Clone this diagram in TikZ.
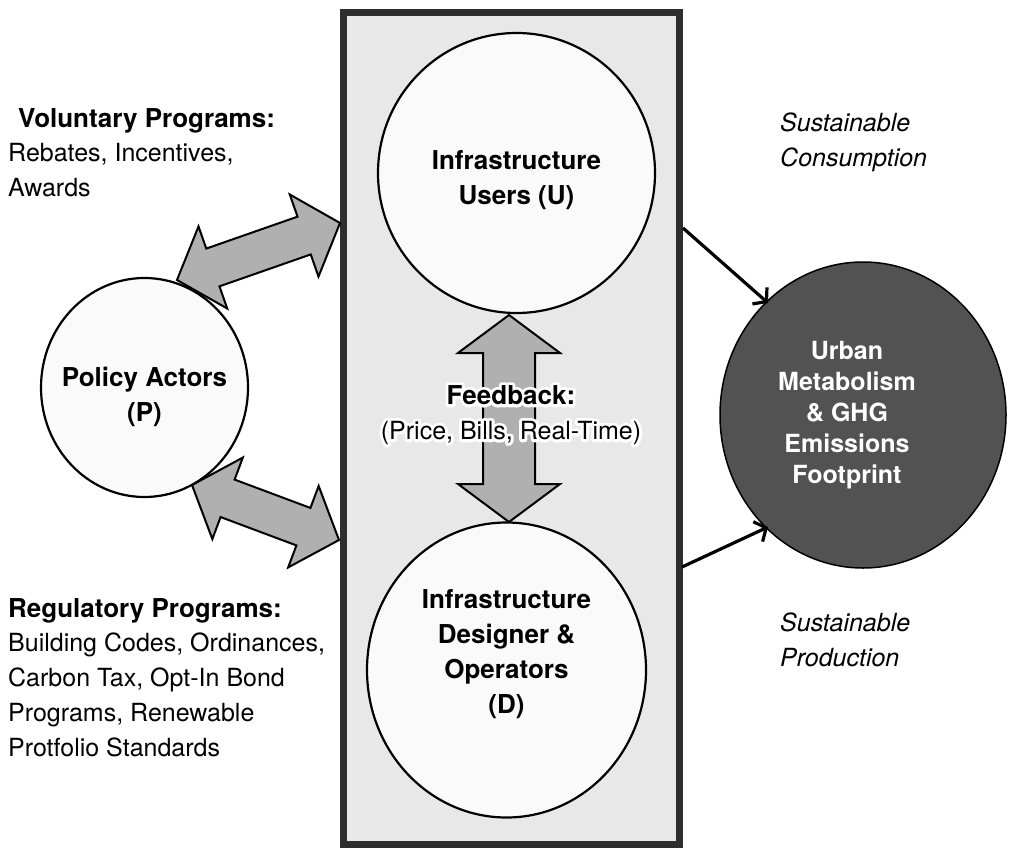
\documentclass[tikz,border=0pt]{standalone}
\usepackage{fontspec}
\setmainfont{TeX Gyre Heros}
\usetikzlibrary{shapes.geometric,calc,arrows.meta}

\definecolor{panelfill}{HTML}{E8E8E8}
\definecolor{paneledge}{HTML}{2E2E2E}
\definecolor{bubblefill}{HTML}{FAFAFA}
\definecolor{fatgray}{HTML}{B0B0B0}
\definecolor{sinkfill}{HTML}{525252}

\newcommand\lblbold{\fontsize{26}{35}\selectfont\bfseries}
\newcommand\lblplain{\fontsize{25}{35}\selectfont}
\newcommand\lblital{\fontsize{25}{35}\selectfont\itshape}
\newcommand\lblsink{\fontsize{25}{31}\selectfont\bfseries}
% glyphs stroked with a wide round pen, for a halo behind text
\newcommand\strokedglyphs[1]{\special{pdf:literal direct 1 Tr 6 w 1 j 1 J}#1\special{pdf:literal direct 0 Tr}}

\tikzset{
  % wide two-headed block arrow: #1 head length, #2 head half width, #3 shaft half width
  fatarrow/.style n args={3}{fill=fatgray, draw=black, line width=2pt, line join=miter,
    to path={
      -- ($(\tikztostart)!#1!(\tikztotarget)!#2!90:(\tikztotarget)$)
      -- ($(\tikztostart)!#1!(\tikztotarget)!#3!90:(\tikztotarget)$)
      -- ($(\tikztotarget)!#1!(\tikztostart)!#3!-90:(\tikztostart)$)
      -- ($(\tikztotarget)!#1!(\tikztostart)!#2!-90:(\tikztostart)$)
      -- (\tikztotarget)
      -- ($(\tikztotarget)!#1!(\tikztostart)!#2!90:(\tikztostart)$)
      -- ($(\tikztotarget)!#1!(\tikztostart)!#3!90:(\tikztostart)$)
      -- ($(\tikztostart)!#1!(\tikztotarget)!#3!-90:(\tikztotarget)$)
      -- ($(\tikztostart)!#1!(\tikztotarget)!#2!-90:(\tikztotarget)$)
      -- cycle}},
  bubble/.style={ellipse, draw=black, line width=2.2pt, fill=bubblefill, inner sep=0pt},
  bubbletext/.style={inner sep=0pt, align=center, font=\lblbold},
  sink/.style={ellipse, draw=black, line width=1.5pt, fill=sinkfill, inner sep=0pt},
  sinktext/.style={inner sep=0pt, align=center, text=white, font=\lblsink},
  flow/.style={line width=3.2pt, -{Straight Barb[length=9pt,width=22pt,line width=3.2pt]}},
  lefttext/.style={anchor=north west, inner sep=0pt, align=left},
  fbtext/.style={inner sep=0pt, align=center, font=\lblplain},
}

\begin{document}
\begin{tikzpicture}[x=1pt, y=-1pt]
  \useasboundingbox (0,0) rectangle (1019,851);

  % central panel holding users and designers
  \node[rectangle, draw=paneledge, fill=panelfill, line width=7pt,
        minimum width=336pt, minimum height=832pt, inner sep=0pt] (panel) at (511.5,428.5) {};

  % end points of the block arrows
  \coordinate (vTopL) at (177,280);
  \coordinate (vTopR) at (340,223);
  \coordinate (vBotL) at (192,485);
  \coordinate (vBotR) at (339,540);
  \coordinate (fbTop) at (509,315);
  \coordinate (fbBot) at (509,522);

  \draw[fatarrow={38pt}{43.5pt}{20pt}] (vTopL) to (vTopR);
  \draw[fatarrow={38pt}{43.5pt}{20pt}] (vBotL) to (vBotR);
  \draw[fatarrow={38pt}{51pt}{26pt}] (fbTop) to (fbBot);

  % actors
  \node[bubble, minimum width=277pt, minimum height=280pt] (U) at (516.5,173) {};
  \node[bubble, minimum width=279pt, minimum height=295pt] (D) at (506.5,670) {};
  \node[bubble, minimum width=207pt, minimum height=219pt] (P) at (144.5,387.5) {};
  \node[bubbletext] (Ulbl) at (516.5,180) {Infrastructure\\Users (U)};
  \node[bubbletext] (Dlbl) at (506.5,654.5) {Infrastructure\\Designer \&\\Operators\\(D)};
  \node[bubbletext] (Plbl) at (144.5,396.5) {Policy Actors\\(P)};

  % outcome
  \node[sink, minimum width=286pt, minimum height=306pt] (S) at (863,415) {};
  \node[sinktext] (Slbl) at (847,415) {Urban\\Metabolism\\\& GHG\\Emissions\\Footprint};

  % flows out of the panel
  \coordinate (outU) at (683,228);
  \coordinate (inU) at (768,303);
  \coordinate (outD) at (682,567);
  \coordinate (inD) at (768,527);
  \draw[flow] (outU) -- (inU);
  \draw[flow] (outD) -- (inD);

  % feedback label over a white halo
  \coordinate (fb) at (511,415);
  \node[fbtext, text=white] (fbhalo) at (fb)
    {\strokedglyphs{{\lblbold Feedback:}}\\\strokedglyphs{(Price, Bills, Real-Time)}};
  \node[fbtext] (fbl) at (fb)
    {{\lblbold Feedback:}\\(Price, Bills, Real-Time)};

  % program descriptions
  \node[lefttext, font=\lblbold] (volT) at (18,108) {Voluntary Programs:};
  \node[lefttext, font=\lblplain] (volB) at (8,143) {Rebates, Incentives,\\Awards};
  \node[lefttext, font=\lblbold] (regT) at (8,598) {Regulatory Programs:};
  \node[lefttext, font=\lblplain] (regB) at (8,633)
    {Building Codes, Ordinances,\\Carbon Tax, Opt-In Bond\\Programs, Renewable\\Protfolio Standards};

  % outcome labels
  \node[lefttext, font=\lblital] (cons) at (780,113) {Sustainable\\Consumption};
  \node[lefttext, font=\lblital] (prod) at (780,613) {Sustainable\\Production};
\end{tikzpicture}
\end{document}
